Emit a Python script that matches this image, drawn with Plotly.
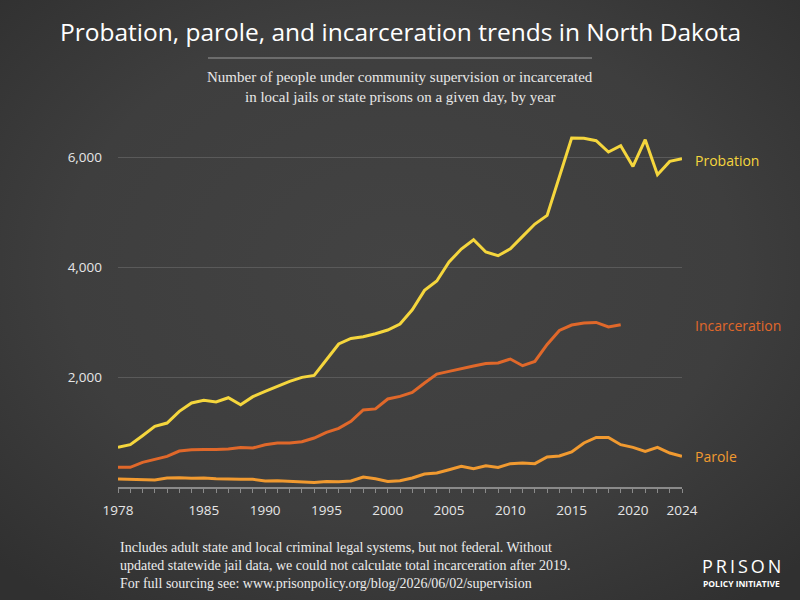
import plotly.graph_objects as go
import base64

years = list(range(1978, 2025))
probation = [720, 769, 933, 1102, 1163, 1375, 1527, 1575, 1545, 1623,
             1496, 1642, 1739, 1829, 1920, 1993, 2029, 2314, 2600, 2700,
             2732, 2787, 2854, 2963, 3223, 3575, 3745, 4090, 4327, 4496,
             4272, 4205, 4332, 4556, 4781, 4938, 5636, 6345, 6340, 6296,
             6090, 6205, 5829, 6314, 5678, 5920, 5969]
incarceration = [357, 358, 448, 497, 557, 654, 678, 683, 680, 691,
                 720, 709, 769, 800, 800, 824, 890, 993, 1066, 1193,
                 1400, 1420, 1600, 1647, 1720, 1891, 2054, 2102, 2145, 2200,
                 2247, 2254, 2327, 2205, 2283, 2593, 2847, 2945, 2981, 2993,
                 2909, 2951]
parole = [145, 140, 130, 128, 164, 170, 158, 164, 150, 140,
          140, 140, 109, 115, 103, 84, 84, 100, 97, 110,
          182, 151, 102, 115, 164, 236, 255, 315, 375, 333,
          387, 357, 424, 436, 424, 545, 563, 636, 800, 902,
          902, 769, 720, 648, 720, 618, 557]

tick_vals = [1978, 1985, 1990, 1995, 2000, 2005, 2010, 2015, 2020, 2024]
y_ticks = [2000, 4000, 6000]

c_prob = "#f5d63d"
c_inc = "#e0682a"
c_par = "#f19a30"

svg = ('<svg xmlns="http://www.w3.org/2000/svg" width="800" height="600">'
       '<defs><radialGradient id="g" cx="50%" cy="45%" r="70%">'
       '<stop offset="0%" stop-color="#434343"/>'
       '<stop offset="60%" stop-color="#3e3e3e"/>'
       '<stop offset="100%" stop-color="#303030"/>'
       '</radialGradient></defs>'
       '<rect width="800" height="600" fill="url(#g)"/></svg>')
bg_uri = "data:image/svg+xml;base64," + base64.b64encode(svg.encode()).decode()

fig = go.Figure()
fig.add_trace(go.Scatter(x=years, y=parole, mode="lines",
                         line=dict(color=c_par, width=3), hoverinfo="skip"))
fig.add_trace(go.Scatter(x=years[:len(incarceration)], y=incarceration, mode="lines",
                         line=dict(color=c_inc, width=3), hoverinfo="skip"))
fig.add_trace(go.Scatter(x=years, y=probation, mode="lines",
                         line=dict(color=c_prob, width=3), hoverinfo="skip"))

fig.update_layout(
    width=800, height=600,
    margin=dict(l=118, r=118, t=135, b=113),
    paper_bgcolor="#3c3c3c",
    plot_bgcolor="rgba(0,0,0,0)",
    showlegend=False,
    images=[dict(source=bg_uri, xref="paper", yref="paper", x=-118/564, y=1+135/352,
                 sizex=800/564, sizey=600/352, sizing="stretch", layer="below",
                 xanchor="left", yanchor="top")],
    xaxis=dict(range=[1978, 2024], tickvals=tick_vals, ticktext=[str(v) for v in tick_vals],
               showgrid=False, zeroline=False, showline=True, linecolor="#8a8a8a", linewidth=1.5,
               ticks="", tickfont=dict(family="Open Sans", size=13.5, color="#e6e6e6"),
               minor=dict(dtick=1, tick0=1978, ticks="outside", ticklen=4, tickcolor="#8a8a8a",
                          tickwidth=1, showgrid=False),
               ticklabelstandoff=10),
    yaxis=dict(range=[0, 6400], tickvals=y_ticks, ticktext=["2,000", "4,000", "6,000"],
               showgrid=True, gridcolor="#5a5a5a", gridwidth=1, zeroline=False, showline=False,
               ticks="", tickfont=dict(family="Open Sans", size=13.5, color="#e6e6e6"),
               ticklabelstandoff=15),
)

ts = "\u2009"
ann = [
    dict(text="Probation, parole, and incarceration trends in North Dakota",
         x=400, y=32, font=dict(family="Open Sans", size=24.5, color="#ffffff")),
    dict(text="Number of people under community supervision or incarcerated",
         x=400, y=77, font=dict(family="Liberation Serif", size=15, color="#e8e8e8")),
    dict(text="in local jails or state prisons on a given day, by year",
         x=400, y=97, font=dict(family="Liberation Serif", size=15, color="#e8e8e8")),
    dict(text="Probation", x=693, y=160, xanchor="left",
         font=dict(family="Open Sans", size=14, color=c_prob)),
    dict(text="Incarceration", x=693, y=325, xanchor="left",
         font=dict(family="Open Sans", size=14, color=c_inc)),
    dict(text="Parole", x=693, y=456, xanchor="left",
         font=dict(family="Open Sans", size=14, color=c_par)),
    dict(text="Includes adult state and local criminal legal systems, but not federal. Without",
         x=118, y=547, xanchor="left", font=dict(family="Liberation Serif", size=14, color="#ececec")),
    dict(text="updated statewide jail data, we could not calculate total incarceration after 2019.",
         x=118, y=565, xanchor="left", font=dict(family="Liberation Serif", size=14, color="#ececec")),
    dict(text="For full sourcing see: www.prisonpolicy.org/blog/2026/06/02/supervision",
         x=118, y=583, xanchor="left", font=dict(family="Liberation Serif", size=14, color="#ececec")),
    dict(text=ts.join("PRISON"), x=741, y=566, font=dict(family="Open Sans", size=18, color="#ffffff")),
    dict(text="<b>POLICY INITIATIVE</b>", x=741, y=583.5, font=dict(family="Open Sans", size=8.5, color="#ffffff")),
]
annotations = []
for a in ann:
    d = dict(xref="paper", yref="paper", showarrow=False, xanchor=a.get("xanchor", "center"),
             yanchor="middle", text=a["text"], font=a["font"])
    d["x"] = (a["x"] - 118) / 564
    d["y"] = (600 - 113 - a["y"]) / 352
    annotations.append(d)
fig.update_layout(annotations=annotations)

fig.add_shape(type="line", xref="paper", yref="paper",
              x0=(208 - 118) / 564, x1=(592 - 118) / 564,
              y0=(487 - 58) / 352, y1=(487 - 58) / 352,
              line=dict(color="#9a9a9a", width=1))

fig.write_html("out.html")
